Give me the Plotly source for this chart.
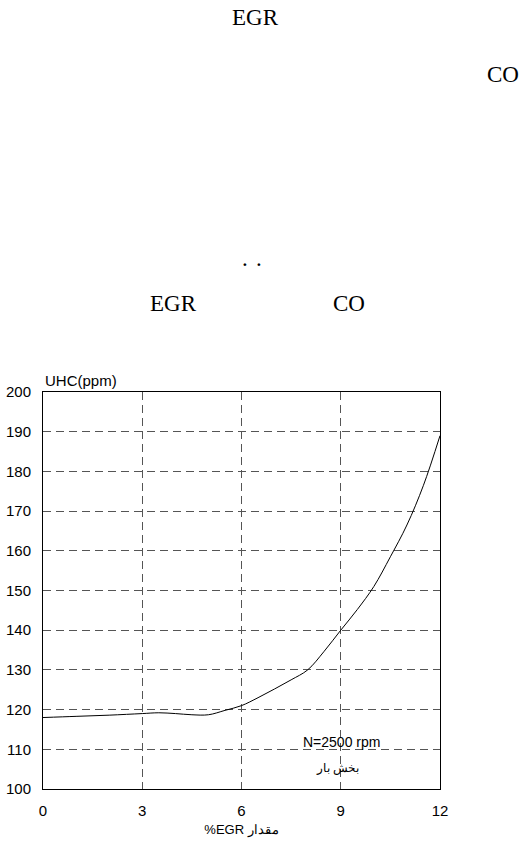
import plotly.graph_objects as go

# Data
egr_pct = [0, 1, 2, 3, 3.5, 4, 4.5, 5, 5.5, 6, 6.5, 7, 7.5, 8, 8.5, 9, 9.5, 10, 10.5, 11, 11.5, 12]
uhc_ppm = [118, 118.3, 118.6, 119, 119.2, 119, 118.7, 118.7, 119.8, 121, 123, 125.2, 127.5, 130, 134.7, 140, 145.2, 151, 158.5, 166.5, 176.5, 189]
x_ticks = [0, 3, 6, 9, 12]
y_ticks = [100, 110, 120, 130, 140, 150, 160, 170, 180, 190, 200]

W, H = 527, 841

def px(x):
    return x / W

def py(y):
    return 1 - y / H

fig = go.Figure()
fig.add_trace(go.Scatter(x=egr_pct, y=uhc_ppm, mode="lines", line=dict(color="black", width=1, shape="spline", smoothing=1.0), showlegend=False, hoverinfo="skip"))

grid = dict(showgrid=True, gridcolor="#555555", gridwidth=1, griddash="8px,5px")
fig.update_xaxes(domain=[px(43), px(440)], range=[0, 12], tickvals=x_ticks, ticks="", zeroline=False,
                 showline=True, linecolor="black", linewidth=1, mirror=True, automargin=False,
                 tickfont=dict(family="Liberation Sans", size=15, color="black"), ticklabelstandoff=8,
                 title=dict(text="%EGR مقدار", font=dict(family="Liberation Sans", size=13, color="black"), standoff=6), **grid)
fig.update_yaxes(domain=[py(789), py(392)], range=[100, 200], tickvals=y_ticks, ticks="", zeroline=False,
                 showline=True, linecolor="black", linewidth=1, mirror=True, automargin=False,
                 tickfont=dict(family="Liberation Sans", size=15, color="black"), ticklabelstandoff=8, **grid)

serif = dict(family="Liberation Serif", size=23, color="black")
anns = [
    dict(text="EGR", x=px(255), y=py(18), font=serif),
    dict(text="CO", x=px(503), y=py(75), font=serif),
    dict(text=".", x=px(245), y=py(258), font=serif),
    dict(text=".", x=px(259), y=py(258), font=serif),
    dict(text="EGR", x=px(173), y=py(304), font=serif),
    dict(text="CO", x=px(349), y=py(304), font=serif),
    dict(text="UHC(ppm)", x=px(43), y=py(380), xanchor="left", font=dict(family="Liberation Sans", size=15, color="black")),
    dict(text="N=2500 rpm", x=px(341), y=py(742), font=dict(family="Liberation Sans", size=14, color="black")),
    dict(text="بخش بار", x=px(337), y=py(768), font=dict(family="Liberation Sans", size=12, color="black")),
]
for a in anns:
    a.setdefault("xanchor", "center")
    fig.add_annotation(xref="paper", yref="paper", showarrow=False, yanchor="middle", **a)

fig.update_layout(width=W, height=H, margin=dict(l=0, r=0, t=0, b=0), paper_bgcolor="white", plot_bgcolor="white")
fig.write_html("out.html")
